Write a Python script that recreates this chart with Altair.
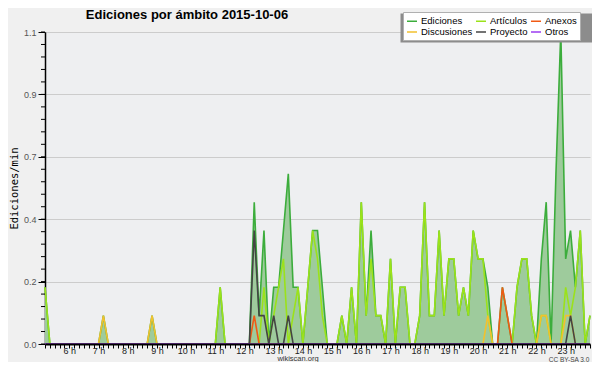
import altair as alt
import pandas as pd

# ---- data (edits per minute, 10-minute bins from 05:10 to 23:50) ----
series_names = ["Ediciones", "Artículos", "Anexos", "Discusiones", "Proyecto", "Otros"]
series_colors = ["#3cad3c", "#9be21a", "#f05a14", "#f2c12e", "#444444", "#9b3cf0"]

hours = [round(5 + (10 + 10 * i) / 60, 4) for i in range(113)]

ediciones = [
    0.2, 0, 0, 0, 0, 0, 0, 0, 0, 0,
    0, 0, 0.1, 0, 0, 0, 0, 0, 0, 0,
    0, 0, 0.1, 0, 0, 0, 0, 0, 0, 0,
    0, 0, 0, 0, 0, 0, 0.2, 0, 0, 0,
    0, 0, 0, 0.5, 0.1, 0.4, 0, 0.2, 0.2, 0.4,
    0.6, 0.2, 0.2, 0, 0.2, 0.4, 0.4, 0.2, 0, 0,
    0, 0.1, 0, 0.2, 0, 0.5, 0.1, 0.4, 0.1, 0.1,
    0, 0.3, 0, 0.2, 0.2, 0, 0, 0.1, 0.5, 0.1,
    0.1, 0.4, 0.1, 0.3, 0.3, 0.1, 0.2, 0.1, 0.4, 0.3,
    0.3, 0.2, 0, 0, 0.2, 0.1, 0, 0.2, 0.3, 0.3,
    0.1, 0, 0.3, 0.5, 0, 0.6, 1.1, 0.3, 0.4, 0.2,
    0.4, 0, 0.1,
]
articulos = [
    0.2, 0, 0, 0, 0, 0, 0, 0, 0, 0,
    0, 0, 0, 0, 0, 0, 0, 0, 0, 0,
    0, 0, 0, 0, 0, 0, 0, 0, 0, 0,
    0, 0, 0, 0, 0, 0, 0.2, 0, 0, 0,
    0, 0, 0, 0, 0, 0.2, 0, 0.1, 0.2, 0.3,
    0, 0.1, 0.2, 0, 0.2, 0.4, 0.3, 0.1, 0, 0,
    0, 0.1, 0, 0.2, 0, 0.5, 0.1, 0.3, 0.1, 0.1,
    0, 0.3, 0, 0.2, 0.2, 0, 0, 0.1, 0.5, 0.1,
    0.1, 0.4, 0.1, 0.3, 0.3, 0.1, 0.2, 0.1, 0.4, 0.3,
    0.3, 0.1, 0, 0, 0, 0, 0, 0.2, 0.3, 0.3,
    0.1, 0, 0.1, 0.1, 0, 0, 0, 0.2, 0.1, 0.2,
    0.4, 0, 0.1,
]
anexos = [
    0, 0, 0, 0, 0, 0, 0, 0, 0, 0,
    0, 0, 0, 0, 0, 0, 0, 0, 0, 0,
    0, 0, 0, 0, 0, 0, 0, 0, 0, 0,
    0, 0, 0, 0, 0, 0, 0, 0, 0, 0,
    0, 0, 0, 0.1, 0, 0, 0, 0, 0, 0,
    0, 0, 0, 0, 0, 0, 0, 0, 0, 0,
    0, 0, 0, 0, 0, 0, 0, 0, 0, 0,
    0, 0, 0, 0, 0, 0, 0, 0, 0, 0,
    0, 0, 0, 0, 0, 0, 0, 0, 0, 0,
    0, 0, 0, 0, 0.2, 0.1, 0, 0, 0, 0,
    0, 0, 0, 0, 0, 0, 0, 0, 0, 0,
    0, 0, 0,
]
discusiones = [
    0, 0, 0, 0, 0, 0, 0, 0, 0, 0,
    0, 0, 0.1, 0, 0, 0, 0, 0, 0, 0,
    0, 0, 0.1, 0, 0, 0, 0, 0, 0, 0,
    0, 0, 0, 0, 0, 0, 0, 0, 0, 0,
    0, 0, 0, 0, 0, 0, 0, 0, 0, 0,
    0, 0, 0, 0, 0, 0, 0, 0, 0, 0,
    0, 0, 0, 0, 0, 0, 0, 0, 0, 0,
    0, 0, 0, 0, 0, 0, 0, 0, 0, 0,
    0, 0, 0, 0, 0, 0, 0, 0, 0, 0,
    0, 0.1, 0, 0, 0, 0, 0, 0, 0, 0,
    0, 0, 0.1, 0.1, 0, 0, 0, 0.1, 0.1, 0,
    0, 0, 0,
]
proyecto = [
    0, 0, 0, 0, 0, 0, 0, 0, 0, 0,
    0, 0, 0, 0, 0, 0, 0, 0, 0, 0,
    0, 0, 0, 0, 0, 0, 0, 0, 0, 0,
    0, 0, 0, 0, 0, 0, 0, 0, 0, 0,
    0, 0, 0, 0.4, 0.1, 0.1, 0, 0.1, 0, 0,
    0.1, 0, 0, 0, 0, 0, 0, 0, 0, 0,
    0, 0, 0, 0, 0, 0, 0, 0, 0, 0,
    0, 0, 0, 0, 0, 0, 0, 0, 0, 0,
    0, 0, 0, 0, 0, 0, 0, 0, 0, 0,
    0, 0, 0, 0, 0, 0, 0, 0, 0, 0,
    0, 0, 0, 0, 0, 0, 0, 0, 0.1, 0,
    0, 0, 0,
]
otros = [0] * 113

y_major = [0, 0.22, 0.44, 0.66, 0.88, 1.1]
y_minor = [round(0.044 * k, 3) for k in range(26)]

title_text = "Ediciones por ámbito  2015-10-06"
footer_left = "wikiscan.org"
footer_right = "CC BY-SA 3.0"

# ---- tables ----
all_series = [ediciones, articulos, anexos, discusiones, proyecto, otros]
rows = []
for name, vals in zip(series_names, all_series):
    for h, v in zip(hours, vals):
        rows.append({"serie": name, "h": h, "v": v})
long_df = pd.DataFrame(rows)
total_df = pd.DataFrame({"h": hours, "v": ediciones})
minor_df = pd.DataFrame({"v": y_minor})
one = pd.DataFrame({"a": [0]})

X = alt.X(
    "h:Q",
    scale=alt.Scale(domain=[hours[0], hours[-1]], nice=False, zero=False),
    axis=alt.Axis(
        values=hours,
        labelExpr="abs(datum.value - round(datum.value)) < 0.001 ? round(datum.value) + ' h' : ''",
        title=None, grid=False, tickSize=4, tickColor="black", tickWidth=1,
        domainColor="black", domainWidth=2, labelFont="Liberation Sans",
        labelFontSize=9, labelColor="#222222", labelPadding=-1.5,
        labelOverlap=False, labelFlush=False, zindex=1,
    ),
)
Y = alt.Y(
    "v:Q",
    scale=alt.Scale(domain=[0, 1.1], nice=False),
    axis=alt.Axis(
        values=y_major, format=".1f", title="Ediciones/min",
        titleFont="DejaVu Sans Mono", titleFontSize=10.5, titleFontWeight="normal",
        titleColor="black", titleX=-31, titleY=156, titleAngle=270,
        titleAlign="center", titleBaseline="middle",
        labelFont="Liberation Sans", labelFontSize=9, labelColor="#555555",
        tickSize=7, tickColor="black", domainColor="black", domainWidth=1.5,
        grid=True, gridColor="#cccccc", gridWidth=1,
    ),
)

area = alt.Chart(total_df).mark_area(color="#9ecb9c", opacity=1).encode(x=X, y=Y)

lines = alt.Chart(long_df).mark_line(strokeWidth=1.6).encode(
    x=X,
    y=Y,
    color=alt.Color(
        "serie:N",
        scale=alt.Scale(domain=series_names, range=series_colors),
        legend=alt.Legend(
            title=None, orient="none", legendX=358, legendY=-20, columns=3,
            direction="horizontal",
            symbolType="stroke", symbolSize=100, symbolStrokeWidth=1.5,
            labelFont="Liberation Sans", labelFontSize=9.5, labelColor="black",
            fillColor="white", strokeColor="#b0b0b0", padding=3,
            rowPadding=-2, columnPadding=0, labelOffset=3,
        ),
    ),
)

minor_ticks = alt.Chart(minor_df).mark_rule(color="black", strokeWidth=1).encode(
    y=Y, x=alt.value(-4), x2=alt.value(0)
)

shadow = alt.Chart(one).mark_rect(color="#8c8c8c").encode(
    x=alt.value(355.5), x2=alt.value(548.5), y=alt.value(-18.5), y2=alt.value(10.5)
)

title = alt.Chart(one).mark_text(
    text=title_text, font="Liberation Sans", fontSize=13, fontWeight="bold",
    align="center", baseline="middle", color="black",
).encode(x=alt.value(142), y=alt.value(-17))

foot1 = alt.Chart(one).mark_text(
    text=footer_left, font="Liberation Sans", fontSize=7.5, align="center",
    baseline="alphabetic", color="#333333",
).encode(x=alt.value(253), y=alt.value(328.6))

foot2 = alt.Chart(one).mark_text(
    text=footer_right, font="Liberation Sans", fontSize=6.5, align="center",
    baseline="alphabetic", color="#444444",
).encode(x=alt.value(524), y=alt.value(329.5))

chart = alt.layer(area, lines, minor_ticks, shadow, title, foot1, foot2).properties(
    width=545,
    height=312,
    autosize=alt.AutoSizeParams(type="none"),
    padding={"left": 37, "top": 24, "right": 2, "bottom": 18},
    background="#f0f0f0",
).configure_view(fill="#eeeff1", strokeWidth=0)

chart.save("out.html", embed_options={"renderer": "svg", "actions": False})
